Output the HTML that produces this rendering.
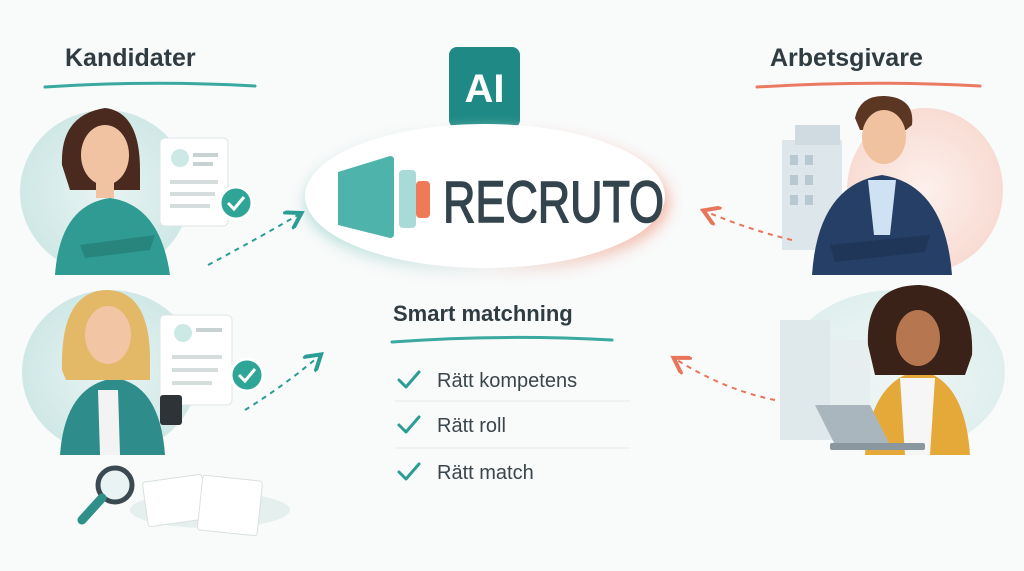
<!DOCTYPE html>
<html><head><meta charset="utf-8"><style>
html,body{margin:0;padding:0;background:#f9fafa;}
svg{display:block}
text{font-family:"Liberation Sans",sans-serif}
</style></head><body>
<svg width="1024" height="571" viewBox="0 0 1024 571" xmlns="http://www.w3.org/2000/svg">
<defs>
<radialGradient id="tl" cx="0.5" cy="0.5" r="0.5"><stop offset="0" stop-color="#e8f4f3"/><stop offset="1" stop-color="#cfe8e6"/></radialGradient>
<radialGradient id="cr" cx="0.5" cy="0.5" r="0.5"><stop offset="0" stop-color="#fdf0ec"/><stop offset="1" stop-color="#f8dcd3"/></radialGradient>
<linearGradient id="ell" x1="0" x2="1"><stop offset="0" stop-color="#9fd6d0"/><stop offset="0.5" stop-color="#eeeeee"/><stop offset="1" stop-color="#f3a58f"/></linearGradient>
<filter id="bl" x="-20%" y="-20%" width="140%" height="140%"><feGaussianBlur stdDeviation="7"/></filter>
<marker id="at" markerWidth="10" markerHeight="10" refX="6" refY="5" orient="auto"><path d="M0,0 L8,5 L0,10" fill="none" stroke="#2a9d95" stroke-width="2"/></marker>
<marker id="ac" markerWidth="10" markerHeight="10" refX="6" refY="5" orient="auto"><path d="M0,0 L8,5 L0,10" fill="none" stroke="#e8755a" stroke-width="2"/></marker>
</defs>
<rect width="1024" height="571" fill="#f9fafa"/>

<text x="65" y="66" font-size="25" font-weight="bold" fill="#2f3c42">Kandidater</text>
<path d="M45 87 Q150 80 255 86" stroke="#3aa9a0" stroke-width="3" fill="none" stroke-linecap="round"/>
<text x="770" y="66" font-size="25" font-weight="bold" fill="#2f3c42">Arbetsgivare</text>
<path d="M757 87 Q870 80 980 86" stroke="#ea7b62" stroke-width="3" fill="none" stroke-linecap="round"/>

<rect x="449" y="47" width="71" height="81" rx="8" fill="#1f8a85"/>
<text x="484.5" y="102" font-size="40" font-weight="bold" fill="#fff" text-anchor="middle">AI</text>

<ellipse cx="487" cy="202" rx="182" ry="72" fill="url(#ell)" filter="url(#bl)" opacity="0.8"/>
<ellipse cx="485" cy="196" rx="180" ry="72" fill="#ffffff"/>
<path d="M338 172 L390 156 Q394 156 394 160 L394 234 Q394 238 390 238 L338 225 Z" fill="#4db3ab"/>
<rect x="399" y="170" width="17" height="58" rx="4" fill="#a8dbd7"/>
<rect x="416" y="181" width="14" height="37" rx="4" fill="#ee7a57"/>
<text x="443" y="222" font-size="58" fill="#34444d" stroke="#34444d" stroke-width="1.5" textLength="221" lengthAdjust="spacingAndGlyphs">RECRUTO</text>

<text x="393" y="321" font-size="22" font-weight="bold" fill="#2f3c42">Smart matchning</text>
<path d="M392 342 Q500 334 612 340" stroke="#3aa9a0" stroke-width="3" fill="none" stroke-linecap="round"/>
<g stroke="#2a9d95" stroke-width="3" fill="none" stroke-linecap="round" stroke-linejoin="round">
<path d="M399 380 L406 387 L419 372"/>
<path d="M399 425 L406 432 L419 417"/>
<path d="M399 472 L406 479 L419 464"/>
</g>
<text x="437" y="387" font-size="20" fill="#3a464c">Rätt kompetens</text>
<text x="437" y="432" font-size="20" fill="#3a464c">Rätt roll</text>
<text x="437" y="479" font-size="20" fill="#3a464c">Rätt match</text>
<line x1="395" y1="401" x2="630" y2="401" stroke="#e6eaea"/>
<line x1="395" y1="448" x2="630" y2="448" stroke="#e6eaea"/>

<ellipse cx="105" cy="192" rx="85" ry="82" fill="url(#tl)"/>
<rect x="160" y="138" width="68" height="88" rx="5" fill="#fff" stroke="#dfe6e6"/>
<circle cx="180" cy="158" r="9" fill="#cde9e6"/>
<rect x="193" y="153" width="25" height="4" fill="#c8d2d2"/><rect x="193" y="162" width="20" height="4" fill="#c8d2d2"/>
<rect x="170" y="180" width="48" height="4" fill="#d6dddd"/><rect x="170" y="192" width="45" height="4" fill="#d6dddd"/><rect x="170" y="204" width="40" height="4" fill="#d6dddd"/>
<path d="M55 275 Q60 205 110 198 Q160 205 170 275 Z" fill="#2f9b93"/>
<path d="M62 165 Q60 115 105 108 Q140 112 140 170 L140 190 L70 190 Z" fill="#4a2a1f"/>
<ellipse cx="105" cy="155" rx="24" ry="30" fill="#f1c3a2"/>
<rect x="96" y="178" width="18" height="20" fill="#f1c3a2"/>
<path d="M80 245 L155 235 L150 250 L85 258 Z" fill="#27857e"/>
<circle cx="236" cy="203" r="16" fill="#2fa597" stroke="#fff" stroke-width="3"/>
<path d="M228 203 L234 209 L244 197" stroke="#fff" stroke-width="3" fill="none"/>

<ellipse cx="110" cy="372" rx="88" ry="82" fill="url(#tl)"/>
<rect x="160" y="315" width="72" height="90" rx="5" fill="#fff" stroke="#dfe6e6"/>
<circle cx="183" cy="333" r="9" fill="#cde9e6"/>
<rect x="196" y="328" width="26" height="4" fill="#c8d2d2"/>
<rect x="172" y="355" width="50" height="4" fill="#d6dddd"/><rect x="172" y="368" width="46" height="4" fill="#d6dddd"/><rect x="172" y="381" width="40" height="4" fill="#d6dddd"/>
<path d="M60 455 Q65 385 115 378 Q160 385 165 455 Z" fill="#2e8d8a"/>
<path d="M98 390 L118 390 L120 455 L100 455 Z" fill="#f3f3f3"/>
<path d="M62 370 Q60 290 108 290 Q150 292 150 360 L150 380 L66 380 Z" fill="#e3b866"/>
<ellipse cx="108" cy="335" rx="23" ry="29" fill="#f2c5a5"/>
<rect x="160" y="395" width="22" height="30" rx="3" fill="#2d3336"/>
<circle cx="247" cy="375" r="16" fill="#2fa597" stroke="#fff" stroke-width="3"/>
<path d="M239 375 L245 381 L255 369" stroke="#fff" stroke-width="3" fill="none"/>
<ellipse cx="210" cy="510" rx="80" ry="18" fill="#e4efee"/>
<rect x="145" y="478" width="60" height="45" rx="3" fill="#fff" stroke="#d9e0e0" transform="rotate(-8 175 500)"/>
<rect x="200" y="478" width="60" height="55" rx="3" fill="#fff" stroke="#d9e0e0" transform="rotate(6 230 505)"/>
<circle cx="115" cy="485" r="17" fill="#e9f3f3" stroke="#3b4a50" stroke-width="5"/>
<line x1="102" y1="498" x2="82" y2="520" stroke="#2f8f89" stroke-width="9" stroke-linecap="round"/>

<ellipse cx="925" cy="190" rx="78" ry="82" fill="url(#cr)"/>
<rect x="782" y="140" width="60" height="110" fill="#dde6ea"/><rect x="795" y="125" width="45" height="20" fill="#cfdbe0"/>
<g fill="#b8c9d1"><rect x="790" y="155" width="8" height="10"/><rect x="805" y="155" width="8" height="10"/><rect x="790" y="175" width="8" height="10"/><rect x="805" y="175" width="8" height="10"/><rect x="790" y="195" width="8" height="10"/><rect x="805" y="195" width="8" height="10"/></g>
<path d="M812 275 Q818 185 882 175 Q945 185 952 275 Z" fill="#253f66"/>
<path d="M868 180 L896 180 L890 235 L874 235 Z" fill="#cfe2f3"/>
<path d="M855 118 Q860 95 885 96 Q915 98 912 125 L906 130 L860 130 Z" fill="#5a3623"/>
<ellipse cx="884" cy="137" rx="22" ry="27" fill="#f0c29f"/>
<path d="M830 245 L930 235 L925 252 L835 262 Z" fill="#1f3658"/>

<ellipse cx="895" cy="372" rx="110" ry="82" fill="url(#tl)" opacity="0.6"/>
<rect x="780" y="320" width="50" height="120" fill="#dfe8eb"/><rect x="830" y="340" width="40" height="100" fill="#e6eef0"/>
<path d="M865 455 Q870 380 920 370 Q965 380 970 455 Z" fill="#e5a93a"/>
<path d="M900 378 L935 378 L930 455 L905 455 Z" fill="#f6f6f6"/>
<path d="M868 345 Q865 285 920 285 Q975 290 972 355 L965 375 L875 375 Z" fill="#3a2219"/>
<ellipse cx="918" cy="338" rx="22" ry="28" fill="#b57650"/>
<path d="M815 405 L870 405 L890 445 L835 445 Z" fill="#aab6bd"/>
<rect x="830" y="443" width="95" height="7" rx="2" fill="#8a979e"/>

<path d="M208 265 Q255 240 298 215" stroke="#2a9d95" stroke-width="2" stroke-dasharray="5 5" fill="none" marker-end="url(#at)"/>
<path d="M245 410 Q285 385 318 357" stroke="#2a9d95" stroke-width="2" stroke-dasharray="5 5" fill="none" marker-end="url(#at)"/>
<path d="M792 240 Q750 230 707 212" stroke="#e8755a" stroke-width="2" stroke-dasharray="5 5" fill="none" marker-end="url(#ac)"/>
<path d="M775 400 Q725 390 677 360" stroke="#e8755a" stroke-width="2" stroke-dasharray="5 5" fill="none" marker-end="url(#ac)"/>
</svg>
</body></html>
